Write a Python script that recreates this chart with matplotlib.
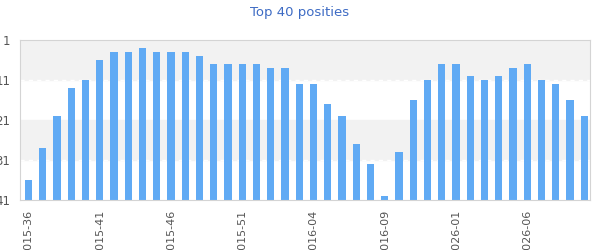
import numpy as np
import matplotlib.pyplot as plt

# chart positions per week (1 = top)
weeks = list(range(40))
positions = [36, 28, 20, 13, 11, 6, 4, 4, 3, 4,
             4, 4, 5, 7, 7, 7, 7, 8, 8, 12,
             12, 17, 20, 27, 32, 40, 29, 16, 11, 7,
             7, 10, 11, 10, 8, 7, 11, 12, 16, 20]
tick_labels = ['2015-36', '2015-41', '2015-46', '2015-51',
               '2016-04', '2016-09', '2026-01', '2026-06']
y_ticks = [1, 11, 21, 31, 41]

fig = plt.figure(figsize=(6, 2.5), dpi=100)
ax = fig.add_axes([20/600, 1 - 200/250, 570/600, 160/250])

pos = np.array(positions)
ax.axhspan(1, 11, color='#f2f2f2', zorder=0)
ax.axhspan(21, 31, color='#f2f2f2', zorder=0)
for y in [11, 31]:
    ax.axhline(y, color='white', lw=1, ls=(0, (3, 3)), zorder=0.5)

ax.bar(weeks, 41 - pos, bottom=pos, width=0.5, color='#60aaf4', zorder=2)

ax.set_ylim(41, 1)
ax.set_xlim(-0.6, 39.4)
ax.set_yticks(y_ticks)
ax.set_xticks(weeks[::5])
ax.set_xticklabels(tick_labels, rotation=90)
ax.tick_params(axis='y', length=0, labelsize=8.5, colors='#555555', pad=7)
ax.tick_params(axis='x', length=0, labelsize=8, colors='#555555', pad=7)
for s in ax.spines.values():
    s.set_color('#d4d4d4')

fig.text(0.5, 0.95, 'Top 40 posities', ha='center', va='center',
         fontsize=9.5, color='#3d6bc4')

fig.savefig('out.png', dpi=100)
